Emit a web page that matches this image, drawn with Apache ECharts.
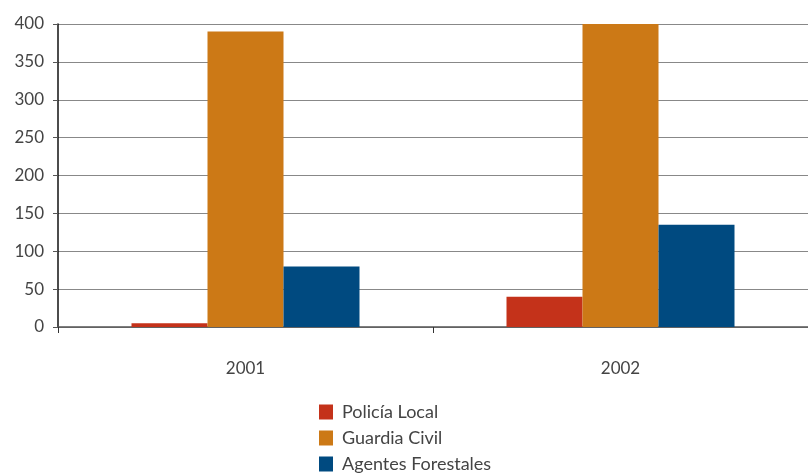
<!DOCTYPE html>
<html><head><meta charset="utf-8">
<script src="https://cdn.jsdelivr.net/npm/echarts@6/dist/echarts.min.js"></script>
<style>html,body{margin:0;padding:0;background:#fff}#c{width:808px;height:474px}</style>
</head><body><div id="c"></div>
<script>
const categories = ['2001', '2002'];
const policiaLocal = [5, 40];
const guardiaCivil = [390, 400];
const agentesForestales = [80, 135];
const seriesNames = ['Policía Local', 'Guardia Civil', 'Agentes Forestales'];

const chart = echarts.init(document.getElementById('c'));
const font = 'Lato, "Open Sans", sans-serif';
const legendBase = {
  orient: 'vertical', left: 319, itemWidth: 14, itemHeight: 15, icon: 'rect',
  padding: 0,
  textStyle: { fontFamily: font, fontSize: 18, color: '#444', padding: [0, 0, 0, 4] }
};
chart.setOption({
  animation: false,
  grid: { left: 58, right: -2, top: 24, bottom: 147, containLabel: false },
  legend: seriesNames.map((n, i) => Object.assign({}, legendBase, { top: 403 + i * 26, data: [n] })),
  xAxis: {
    type: 'category', data: categories,
    axisLine: { lineStyle: { color: '#555', width: 1.5 } },
    axisTick: { show: true, length: 6, lineStyle: { color: '#333' } },
    axisLabel: { fontFamily: font, fontSize: 17, color: '#444', margin: 33 }
  },
  yAxis: {
    type: 'value', min: 0, max: 400, interval: 50,
    axisLine: { show: true, lineStyle: { color: '#111', width: 1.5 } },
    axisTick: { show: true, length: 5, lineStyle: { color: '#555' } },
    axisLabel: { fontFamily: font, fontSize: 17, color: '#444', margin: 14 },
    splitLine: { lineStyle: { color: '#888', width: 1 } }
  },
  series: [
    { name: seriesNames[0], type: 'bar', data: policiaLocal, barWidth: 76, barGap: '0%', itemStyle: { color: '#C4321A' } },
    { name: seriesNames[1], type: 'bar', data: guardiaCivil, barWidth: 76, barGap: '0%', itemStyle: { color: '#CC7916' } },
    { name: seriesNames[2], type: 'bar', data: agentesForestales, barWidth: 76, barGap: '0%', itemStyle: { color: '#004A80' } }
  ]
});
</script></body></html>
